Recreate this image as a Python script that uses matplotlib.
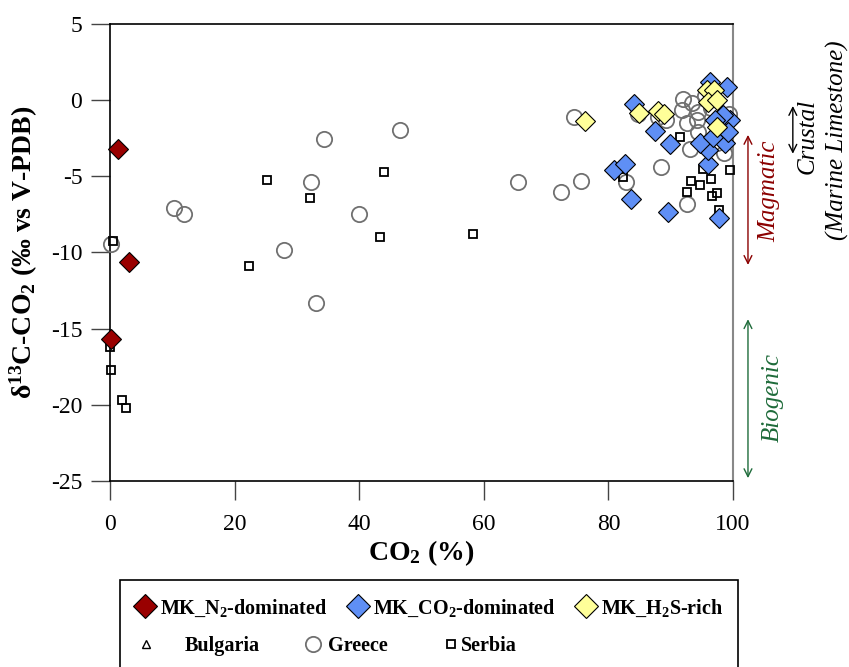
import matplotlib.pyplot as plt
from matplotlib.lines import Line2D
from matplotlib.patches import Rectangle

plt.rcParams['font.family'] = ['Liberation Serif', 'DejaVu Serif']
plt.rcParams['mathtext.default'] = 'regular'
plt.rcParams['axes.unicode_minus'] = False

# MK groups
n2_x = [1.3, 3.0, 0.2]
n2_y = [-3.2, -10.6, -15.7]

co2_x = [84.1, 87.5, 89.9, 80.9, 82.6, 83.6, 89.5, 97.7, 96.0, 96.0, 94.7, 98.7, 96.8,
         99.5, 98.4, 99.2, 97.1, 99.0, 96.3]
co2_y = [-0.26, -2.0, -2.9, -4.6, -4.2, -6.5, -7.35, -7.75, -4.16, -3.3, -2.84, -2.84, -2.4,
         -1.3, -1.0, -2.1, -1.3, 0.87, 1.2]

h2s_x = [76.2, 84.9, 88.0, 88.9, 95.8, 97.0, 96.0, 97.4, 97.4]
h2s_y = [-1.4, -0.87, -0.7, -0.9, 0.66, 0.7, -0.1, 0.0, -1.75]

# regional data
bulgaria_x = []
bulgaria_y = []

greece_x = [0.1, 10.3, 11.8, 28.0, 32.2, 34.4, 33.1, 40.0, 46.5, 65.5, 72.4, 74.5, 75.6,
            82.9, 88.4, 92.6, 84.7, 87.9, 89.3, 92.0, 93.4, 91.8, 94.4, 94.2, 92.6, 94.4,
            93.1, 99.3, 95.5, 96.5, 97.5, 98.5]
greece_y = [-9.45, -7.1, -7.45, -9.85, -5.4, -2.54, -13.3, -7.5, -1.95, -5.4, -6.0, -1.1, -5.3,
            -5.35, -4.4, -6.8, -0.94, -1.1, -1.3, 0.1, -0.2, -0.66, -0.77, -1.3, -1.5, -2.1,
            -3.2, -0.9, 0.3, -0.5, -2.8, -3.5]

serbia_x = [0.5, 0.0, 0.15, 2.0, 2.6, 22.3, 25.2, 32.1, 43.3, 44.0, 58.2, 82.4, 91.5, 93.2,
            94.7, 96.5, 92.6, 96.7, 97.5, 99.5, 95.2, 97.8]
serbia_y = [-9.24, -16.2, -17.7, -19.7, -20.2, -10.9, -5.23, -6.43, -9.0, -4.73, -8.8, -5.07,
            -2.4, -5.3, -5.6, -5.2, -6.0, -6.3, -6.1, -4.6, -4.5, -7.2]

red = '#990000'
blue = '#5F8FF5'
yellow = '#FFFF99'
grey_c = '#707070'

fig = plt.figure(figsize=(8.49, 6.67), dpi=100)
ax = fig.add_axes([0.1296, 0.279, 0.7338, 0.685])

ax.plot(greece_x, greece_y, 'o', ms=11, mfc='none', mec=grey_c, mew=1.3, clip_on=False, zorder=3)
ax.plot(serbia_x, serbia_y, 's', ms=6, mfc='none', mec='black', mew=1.3, clip_on=False, zorder=4)
ax.plot(bulgaria_x, bulgaria_y, '^', ms=6, mfc='none', mec='black', mew=1.0, zorder=4)
ax.plot(n2_x, n2_y, 'D', ms=10.5, mfc=red, mec='black', mew=0.8, clip_on=False, zorder=5)
ax.plot(co2_x, co2_y, 'D', ms=10.5, mfc=blue, mec='black', mew=0.8, clip_on=False, zorder=5)
ax.plot(h2s_x, h2s_y, 'D', ms=10.5, mfc=yellow, mec='black', mew=0.8, clip_on=False, zorder=6)

ax.set_xlim(0, 100)
ax.set_ylim(-25, 5)
ax.set_xticks([0, 20, 40, 60, 80, 100])
ax.set_yticks([5, 0, -5, -10, -15, -20, -25])
ax.tick_params(direction='out', length=14, width=1, color='#444444', labelsize=17, pad=6)
ax.tick_params(axis='x', length=14, pad=10)
ax.spines['right'].set_color('#888888')
ax.spines['right'].set_linewidth(1.5)
for s in ['left', 'bottom', 'top']:
    ax.spines[s].set_linewidth(1.2)

ax.set_xlabel('CO$_2$ (%)', fontsize=20, fontweight='bold', labelpad=2)
ax.set_ylabel('δ$^{13}$C-CO$_2$ (‰ vs V-PDB)', fontsize=20, fontweight='bold', labelpad=8)

# source ranges
arrow_kw = dict(arrowstyle='<->', lw=1.0, mutation_scale=14)
ax.annotate('', xy=(102.4, -2.1), xytext=(102.4, -11.0), annotation_clip=False,
            arrowprops=dict(color='#8B0000', **arrow_kw))
ax.text(105.8, -6.0, 'Magmatic', rotation=90, color='#8B0000', fontsize=18, style='italic',
        ha='center', va='center', clip_on=False)
ax.annotate('', xy=(109.6, -0.2), xytext=(109.6, -3.7), annotation_clip=False,
            arrowprops=dict(color='black', **arrow_kw))
ax.text(111.9, -2.35, 'Crustal', rotation=90, fontsize=18, style='italic',
        ha='center', va='center', clip_on=False)
ax.text(116.7, -2.6, '(Marine Limestone)', rotation=90, fontsize=18, style='italic',
        ha='center', va='center', clip_on=False)
ax.annotate('', xy=(102.4, -14.2), xytext=(102.4, -25.0), annotation_clip=False,
            arrowprops=dict(color='#1E6B3A', **arrow_kw))
ax.text(106.3, -19.5, 'Biogenic', rotation=90, color='#1E6B3A', fontsize=18, style='italic',
        ha='center', va='center', clip_on=False)

# legend box
fig.patches.append(Rectangle((120 / 849, -0.05), 618 / 849, 1 - 580 / 667 + 0.05,
                             transform=fig.transFigure, fill=False, ec='black', lw=1.2))

h1 = [Line2D([], [], ls='none', marker='D', ms=12, mfc=red, mec='black', mew=0.8),
      Line2D([], [], ls='none', marker='D', ms=12, mfc=blue, mec='black', mew=0.8),
      Line2D([], [], ls='none', marker='D', ms=12, mfc=yellow, mec='black', mew=0.8)]
l1 = ['MK_N$_2$-dominated', 'MK_CO$_2$-dominated', 'MK_H$_2$S-rich']
fig.legend(h1, l1, ncol=3, loc='center left', bbox_to_anchor=(135 / 849, 1 - 608 / 667),
           frameon=False, prop=dict(weight='bold', size=14.5), handlelength=1.0,
           handletextpad=0.25, columnspacing=1.0, borderpad=0, borderaxespad=0)

h2 = [Line2D([], [], ls='none', marker='^', ms=6, mfc='none', mec='black', mew=1.0),
      Line2D([], [], ls='none', marker='o', ms=11, mfc='none', mec=grey_c, mew=1.3),
      Line2D([], [], ls='none', marker='s', ms=6, mfc='none', mec='black', mew=1.3)]
l2 = ['Bulgaria', 'Greece', 'Serbia']
row2_x = [136, 303, 441]
row2_pad = [1.4, 0.25, 0.0]
for h, lab, x0, pad in zip(h2, l2, row2_x, row2_pad):
    fig.legend([h], [lab], loc='center left', bbox_to_anchor=(x0 / 849, 1 - 646 / 667),
               frameon=False, prop=dict(weight='bold', size=14.5), handlelength=1.0,
               handletextpad=pad, borderpad=0, borderaxespad=0)

fig.savefig('out.png', dpi=100)
